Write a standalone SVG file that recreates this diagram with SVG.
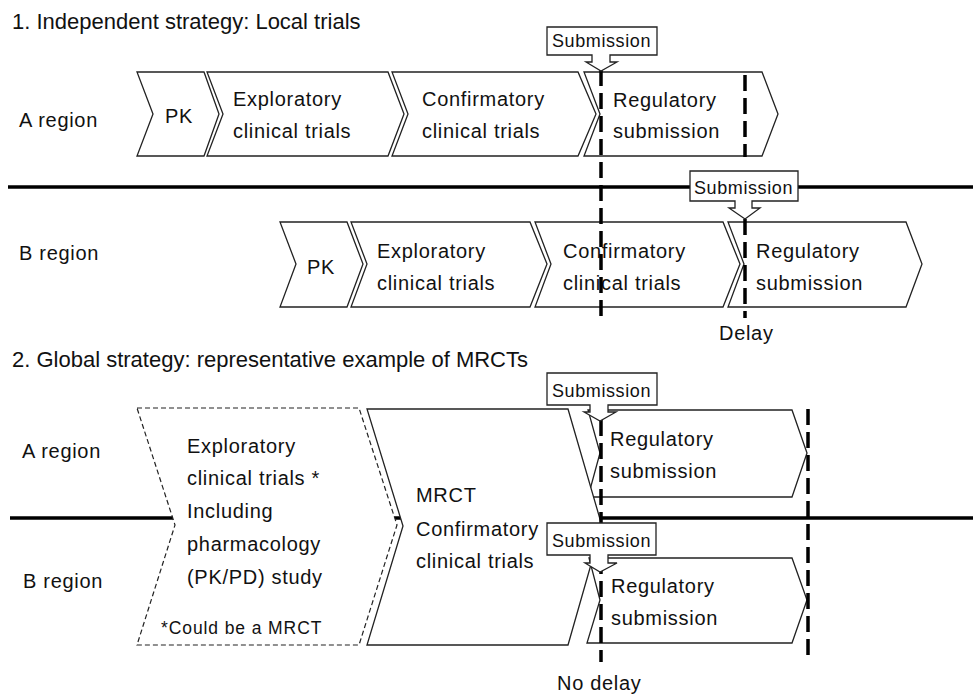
<svg xmlns="http://www.w3.org/2000/svg" width="973" height="695" viewBox="0 0 973 695">
<style>
text{font-family:"Liberation Sans",Arial,sans-serif;fill:#111}
.t{font-size:20px;letter-spacing:0.7px}
.h{font-size:22px}
.s{font-size:18px;letter-spacing:0.6px}
.n{font-size:17.5px;letter-spacing:0.9px}
.chev{fill:#fff;stroke:#222;stroke-width:1.3;stroke-linejoin:miter}
.dchev{fill:#fff;stroke:#222;stroke-width:1.2;stroke-dasharray:5 3}
.div{stroke:#000;stroke-width:3.5;fill:none}
.tl{stroke:#000;stroke-width:3.5;fill:none;stroke-dasharray:16 7}
.call{fill:#fff;stroke:#222;stroke-width:1.3}
</style>
<rect width="973" height="695" fill="#fff"/>
<text class="h" x="12" y="29">1. Independent strategy: Local trials</text>
<text class="h" x="12" y="367">2. Global strategy: representative example of MRCTs</text>

<g id="dividers">
<line class="div" x1="8" y1="187" x2="973" y2="187"/>
<line class="div" x1="10" y1="518" x2="973" y2="518"/>
</g>

<g id="labels">
<text class="t" x="19" y="127">A region</text>
<text class="t" x="19" y="260">B region</text>
<text class="t" x="22" y="458">A region</text>
<text class="t" x="23" y="588">B region</text>
<text class="t" x="719" y="340">Delay</text>
<text class="t" x="557" y="690">No delay</text>
</g>

<g id="s1-a-pk"><path class="chev" d="M137,72 L204,72 L219,114 L204,156 L137,156 L153,114 Z"/><text class="t" x="165" y="123">PK</text></g>
<g id="s1-a-exp"><path class="chev" d="M207,72 L388,72 L404,114 L388,156 L207,156 L223,114 Z"/><text class="t" x="233" y="106">Exploratory</text><text class="t" x="233" y="138">clinical trials</text></g>
<g id="s1-a-conf"><path class="chev" d="M392,72 L578,72 L596,114 L578,156 L392,156 L408,114 Z"/><text class="t" x="422" y="106">Confirmatory</text><text class="t" x="422" y="138">clinical trials</text></g>
<g id="s1-a-reg"><path class="chev" d="M584,72 L762,72 L778,114 L762,156 L584,156 L600,114 Z"/><text class="t" x="613" y="107">Regulatory</text><text class="t" x="613" y="138">submission</text></g>

<g id="s1-b-pk"><path class="chev" d="M280,222 L347,222 L363,264 L347,307 L280,307 L296,264 Z"/><text class="t" x="307" y="274">PK</text></g>
<g id="s1-b-exp"><path class="chev" d="M351,222 L530,222 L547,264 L530,307 L351,307 L367,264 Z"/><text class="t" x="377" y="258">Exploratory</text><text class="t" x="377" y="290">clinical trials</text></g>
<g id="s1-b-conf"><path class="chev" d="M535,222 L723,222 L740,264 L723,307 L535,307 L551,264 Z"/><text class="t" x="563" y="258">Confirmatory</text><text class="t" x="563" y="290">clinical trials</text></g>
<g id="s1-b-reg"><path class="chev" d="M728,222 L906,222 L922,264 L906,307 L728,307 L744,264 Z"/><text class="t" x="756" y="258">Regulatory</text><text class="t" x="756" y="290">submission</text></g>

<g id="s2-exp"><path class="dchev" d="M137,408 L359,408 L397,525 L359,645 L137,645 L175,525 Z"/>
<text class="t" x="187" y="453">Exploratory</text><text class="t" x="187" y="485">clinical trials *</text><text class="t" x="187" y="518">Including</text><text class="t" x="187" y="551">pharmacology</text><text class="t" x="187" y="584">(PK/PD) study</text><text class="n" x="161" y="634">*Could be a MRCT</text></g>
<g id="s2-a-reg"><path class="chev" d="M588,410 L792,410 L807,453 L792,497 L588,497 L600,453 Z"/><text class="t" x="610" y="446">Regulatory</text><text class="t" x="610" y="478">submission</text></g>
<g id="s2-mrct"><path class="chev" d="M367,409 L568,409 L602,526 L568,645 L367,645 L403,526 Z"/><text class="t" x="416" y="502">MRCT</text><text class="t" x="416" y="536">Confirmatory</text><text class="t" x="416" y="568">clinical trials</text></g>
<g id="s2-b-reg"><path class="chev" d="M589,558 L792,558 L807,600 L792,643 L587,643 L600,600 Z"/><text class="t" x="611" y="593">Regulatory</text><text class="t" x="611" y="625">submission</text></g>

<g id="connectors">
<line class="tl" x1="601" y1="70" x2="601" y2="318"/>
<line class="tl" x1="745" y1="75" x2="745" y2="157"/>
<line class="tl" x1="745" y1="219" x2="745" y2="318"/>
<line class="tl" x1="601" y1="420" x2="601" y2="662"/>
<line class="tl" x1="808" y1="409" x2="808" y2="657"/>
</g>

<g id="s1-sub-a"><path class="call" d="M547,27 H657 V55 H610 V62 H617 L601,71 L586,62 H592 V55 H547 Z"/><text class="s" x="552" y="47">Submission</text></g>
<g id="s1-sub-b"><path class="call" d="M690,171 H798 V201 H752 V208 H760 L745,219 L729,208 H735 V201 H690 Z"/><text class="s" x="694" y="194">Submission</text></g>
<g id="s2-sub-a"><path class="call" d="M547,373 H657 V405 H608 V412 H616 L600,421 L584,412 H590 V405 H547 Z"/><text class="s" x="552" y="397">Submission</text></g>
<g id="s2-sub-b"><path class="call" d="M547,523 H656 V555 H608 V563 H617 L600,572 L585,563 H590 V555 H547 Z"/><text class="s" x="552" y="547">Submission</text></g>
</svg>
